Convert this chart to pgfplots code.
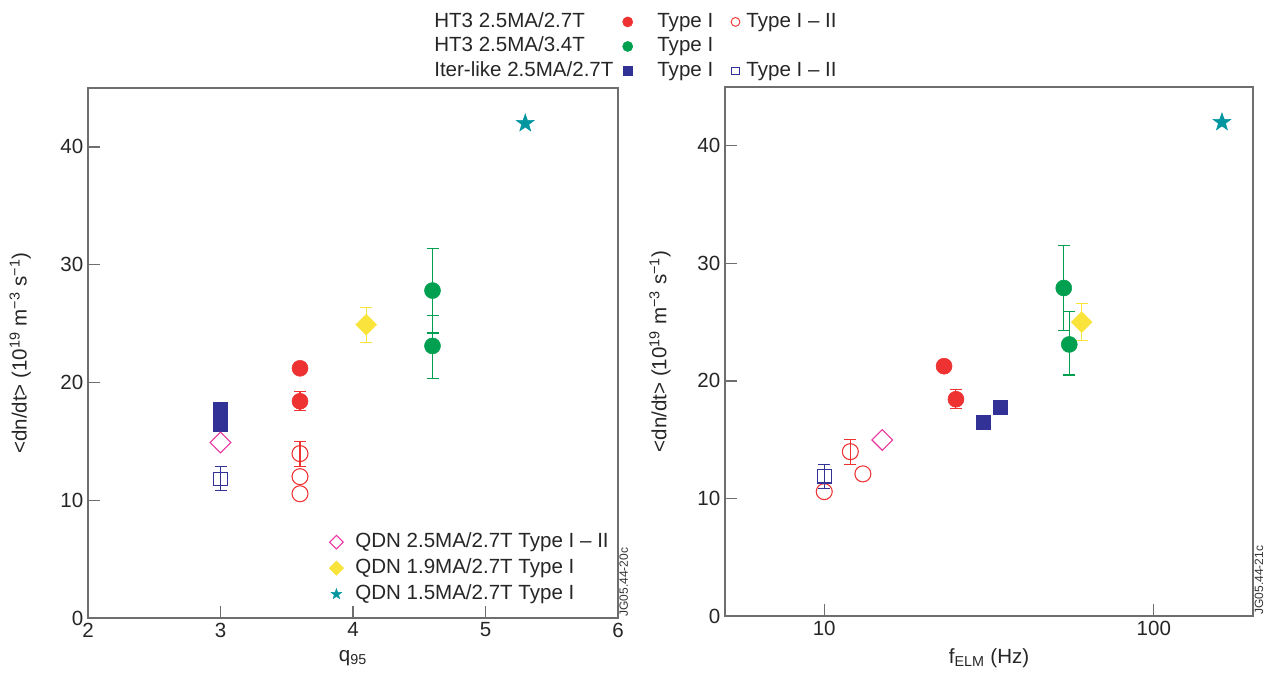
\documentclass[border=0pt]{standalone}
\usepackage{fontspec}
\setmainfont{Liberation Sans}
\usepackage{pgfplots}
\pgfplotsset{compat=1.18}

\definecolor{cred}{RGB}{238,50,50}
\definecolor{cgreen}{RGB}{0,160,80}
\definecolor{cblue}{RGB}{50,50,150}
\definecolor{cmag}{RGB}{233,50,160}
\definecolor{cyel}{RGB}{250,228,60}
\definecolor{cteal}{RGB}{0,150,160}
\definecolor{axgray}{RGB}{110,110,110}

\pgfdeclareplotmark{fstar}{%
  \pgfpathmoveto{\pgfqpointpolar{90}{\pgfplotmarksize}}%
  \pgfpathlineto{\pgfqpointpolar{126}{0.40\pgfplotmarksize}}%
  \pgfpathlineto{\pgfqpointpolar{162}{\pgfplotmarksize}}%
  \pgfpathlineto{\pgfqpointpolar{198}{0.40\pgfplotmarksize}}%
  \pgfpathlineto{\pgfqpointpolar{234}{\pgfplotmarksize}}%
  \pgfpathlineto{\pgfqpointpolar{270}{0.40\pgfplotmarksize}}%
  \pgfpathlineto{\pgfqpointpolar{306}{\pgfplotmarksize}}%
  \pgfpathlineto{\pgfqpointpolar{342}{0.40\pgfplotmarksize}}%
  \pgfpathlineto{\pgfqpointpolar{18}{\pgfplotmarksize}}%
  \pgfpathlineto{\pgfqpointpolar{54}{0.40\pgfplotmarksize}}%
  \pgfpathclose
  \pgfusepathqfillstroke}

\newcommand{\fs}{\fontsize{15.4}{18}\selectfont}

\pgfplotsset{
  myax/.style={
    scale only axis, clip=false,
    ymin=0, ymax=45, ytick={0,10,20,30,40},
    tick pos=left, tick align=inside, major tick length=9pt,
    axis line style={draw=axgray, line width=1pt},
    every tick/.style={draw=axgray, line width=1pt},
    /pgf/number format/assume math mode=true,
    tick label style={font=\fs, text=black!85},
    label style={font=\fs, text=black!85},
    x label style={yshift=-3pt},
    ylabel={<dn/dt> (10\textsuperscript{19} m\textsuperscript{−3} s\textsuperscript{−1})},
  },
  li/.style={legend image code/.code={\path (0pt,0pt) (#1,0pt); \draw[##1] plot coordinates {(0.5*#1,0pt)};}},
  eb/.style={error bars/y dir=both, error bars/y explicit,
    error bars/error bar style={line width=0.8pt},
    error bars/error mark options={rotate=90, mark size=4.5pt, line width=0.8pt}},
  redF/.style={only marks, mark=*, mark size=6pt, color=cred},
  redO/.style={only marks, mark=o, mark size=6pt, color=cred, mark options={fill=white, line width=0.8pt}},
  grnF/.style={only marks, mark=*, mark size=6pt, color=cgreen},
  bluF/.style={only marks, mark=square*, mark size=5.25pt, color=cblue},
  bluO/.style={only marks, mark=square, mark size=5.1pt, color=cblue, mark options={fill=white, line width=0.8pt}},
  magO/.style={only marks, mark=square, mark size=5.5pt, color=cmag, mark options={rotate=45, fill=white, line width=0.8pt}},
  yelF/.style={only marks, mark=square*, mark size=5.5pt, color=cyel, mark options={rotate=45}},
  tealS/.style={only marks, mark=fstar, mark size=7pt, color=cteal, mark options={fill=cteal, line width=0.4pt}},
}

\begin{document}
\begin{tikzpicture}
\useasboundingbox (0pt,0pt) rectangle (957pt,504.75pt);

% ---------------- left axis (q95) ----------------
\begin{axis}[myax,
  at={(66pt,41.25pt)}, anchor=south west,
  width=397.5pt, height=397.5pt,
  xmin=2, xmax=6, xtick={2,3,4,5,6},
  xlabel={q\textsubscript{95}},
  y label style={at={(axis description cs:-0.128,0.5)}, anchor=center},
  legend style={at={(axis description cs:0.44,0.170)}, anchor=north west,
    draw=none, fill=none, font=\fs, row sep=2.5pt, column sep=0pt,
    nodes={inner sep=0pt, text height=12.5pt, text depth=4.5pt, text=black!85},
    /tikz/column 1/.style={column sep=6pt}},
  legend cell align=left,
]
\addplot[redF, forget plot] coordinates {(3.6,21.2)};
\addplot[redF, eb, forget plot] coordinates {(3.6,18.4) +- (0,0.8)};
\addplot[redO, eb, forget plot] coordinates {(3.6,13.96) += (0,1.04) -= (0,1.08)};
\addplot[redO, forget plot] coordinates {(3.6,12.0) (3.6,10.55)};
\addplot[grnF, eb, forget plot] coordinates {(4.6,27.8) += (0,3.6) -= (0,3.6) (4.6,23.1) += (0,2.6) -= (0,2.8)};
\addplot[bluF, forget plot] coordinates {(3.0,17.7) (3.0,16.45)};
\addplot[bluO, eb, forget plot] coordinates {(3.0,11.8) += (0,1.05) -= (0,1.0)};
\addplot[magO, forget plot] coordinates {(3.0,14.9)};
\addplot[yelF, eb, forget plot] coordinates {(4.1,24.9) += (0,1.5) -= (0,1.5)};
\addplot[tealS, forget plot] coordinates {(5.3,42.0)};
\addlegendimage{only marks, mark=square, mark size=3.6pt, color=cmag, mark options={rotate=45, line width=0.8pt}, li=16pt}
\addlegendentry{QDN 2.5MA/2.7T Type I – II}
\addlegendimage{only marks, mark=square*, mark size=3.8pt, color=cyel, mark options={rotate=45}, li=16pt}
\addlegendentry{QDN 1.9MA/2.7T Type I}
\addlegendimage{only marks, mark=fstar, mark size=4.2pt, color=cteal, mark options={fill=cteal, line width=0.3pt}, li=16pt}
\addlegendentry{QDN 1.5MA/2.7T Type I}
\node[rotate=90, anchor=north west, font=\fontsize{9}{10}\selectfont, inner sep=1pt, text=black!80] at (axis description cs:1,0) {JG05.44-20c};
\end{axis}

% ---------------- right axis (fELM) ----------------
\begin{axis}[myax,
  at={(543.75pt,42.75pt)}, anchor=south west,
  width=396pt, height=396.75pt,
  xmode=log, xmin=5, xmax=200, xtick={10,100}, xticklabels={10,100},
  xminorticks=false,
  xlabel={f\textsubscript{ELM} (Hz)},
  y label style={at={(axis description cs:-0.123,0.5)}, anchor=center},
]
\addplot[redF] coordinates {(23.1,21.25)};
\addplot[redF, eb] coordinates {(25.1,18.44) +- (0,0.8)};
\addplot[redO, eb] coordinates {(12.0,13.98) += (0,1.02) -= (0,1.1)};
\addplot[redO] coordinates {(13.1,12.09) (10.0,10.58)};
\addplot[bluO, eb] coordinates {(10.0,11.89) += (0,0.96) -= (0,1.02)};
\addplot[grnF, eb] coordinates {(53.3,27.9) += (0,3.6) -= (0,3.6) (55.4,23.1) += (0,2.8) -= (0,2.6)};
\addplot[bluF] coordinates {(30.3,16.5) (34.1,17.76)};
\addplot[magO] coordinates {(15.0,14.98)};
\addplot[yelF, eb] coordinates {(60.4,25.0) += (0,1.6) -= (0,1.6)};
\addplot[tealS] coordinates {(161,42.0)};
\node[rotate=90, anchor=north west, font=\fontsize{9}{10}\selectfont, inner sep=1pt, text=black!80] at (axis description cs:1,0) {JG05.44-21c};
\end{axis}

% ---------------- top legend ----------------
\begin{axis}[hide axis, scale only axis,
  at={(0pt,0pt)}, anchor=south west, width=957pt, height=504.75pt,
  xmin=0, xmax=1, ymin=0, ymax=1,
  legend columns=3,
  legend style={at={(axis description cs:0.337,0.9886)}, anchor=north west,
    draw=none, fill=none, font=\fs, row sep=1.4pt, column sep=0pt,
    nodes={inner sep=0pt, text height=12.5pt, text depth=4.5pt, text=black!85},
    /tikz/column 2/.style={column sep=3.5pt},
    /tikz/column 3/.style={column sep=15pt},
    /tikz/column 4/.style={column sep=9.5pt},
    /tikz/column 5/.style={column sep=1pt}},
  legend cell align=left,
]
\addplot[draw=none, forget plot] coordinates {(0.5,0.5)};
\addlegendimage{empty legend}\addlegendentry{HT3 2.5MA/2.7T}
\addlegendimage{only marks, mark=*, mark size=3.8pt, color=cred, li=14pt}\addlegendentry{Type I}
\addlegendimage{only marks, mark=o, mark size=3.3pt, color=cred, mark options={line width=0.7pt}, li=14pt}\addlegendentry{Type I – II}
\addlegendimage{empty legend}\addlegendentry{HT3 2.5MA/3.4T}
\addlegendimage{only marks, mark=*, mark size=3.8pt, color=cgreen, li=14pt}\addlegendentry{Type I}
\addlegendimage{empty legend}\addlegendentry{}
\addlegendimage{empty legend}\addlegendentry{Iter-like 2.5MA/2.7T}
\addlegendimage{only marks, mark=square*, mark size=3.4pt, color=cblue, li=14pt}\addlegendentry{Type I}
\addlegendimage{only marks, mark=square, mark size=2.8pt, color=cblue, mark options={line width=0.7pt}, li=14pt}\addlegendentry{Type I – II}
\end{axis}
\end{tikzpicture}
\end{document}
